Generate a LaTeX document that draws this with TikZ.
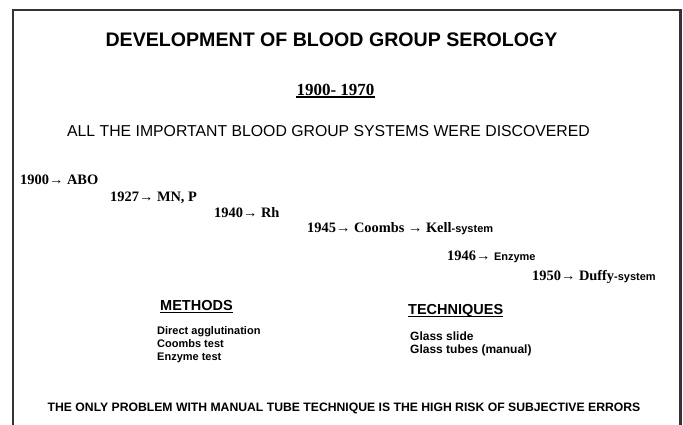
\documentclass[tikz,border=0pt]{standalone}
\usepackage{fontspec}
\setmainfont{Liberation Serif}
\setsansfont{Liberation Sans}
\usetikzlibrary{positioning}

% sans word tacked onto a serif entry
\newcommand{\sysword}[1]{{\sffamily\bfseries\fontsize{11}{12}\selectfont #1}}

\begin{document}
\begin{tikzpicture}[
    x=1pt, y=-1pt,
    frame/.style={draw=black!80, line width=2.4pt},
    banner/.style={inner sep=0pt, anchor=base, font=\sffamily\bfseries\fontsize{19.6}{22}\selectfont},
    period/.style={inner sep=0pt, anchor=base, font=\bfseries\fontsize{17}{20}\selectfont},
    claim/.style={inner sep=0pt, anchor=base, font=\sffamily\fontsize{15.8}{18}\selectfont},
    year/.style={inner sep=0pt, anchor=base west, font=\bfseries\fontsize{14.4}{16}\selectfont},
    head/.style={inner sep=0pt, anchor=base west, font=\sffamily\bfseries\fontsize{14.5}{17}\selectfont},
    entry/.style={inner sep=0pt, anchor=base west, font=\sffamily\bfseries\fontsize{11}{13}\selectfont},
    uline/.style={line width=1.3pt}
]
    \useasboundingbox (0,0) rectangle (683,424);
    \draw[frame] (12.8,440) -- (12.8,10) -- (680.3,10) -- (680.3,440);

    \node[banner] (title) at (331.5,46) {DEVELOPMENT OF BLOOD GROUP SEROLOGY};
    \node[period] (span) at (335.5,95) {1900- 1970};
    \draw[uline] ([yshift=-2pt]span.base west) -- ([yshift=-2pt]span.base east);
    \node[claim] (claim) at (328.5,136) {ALL THE IMPORTANT BLOOD GROUP SYSTEMS WERE DISCOVERED};

    % timeline
    \node[year] (abo)   at (20,184)  {1900→ ABO};
    \node[year] (mnp)   at (110,201) {1927→ MN, P};
    \node[year] (rh)    at (214,217.5) {1940→ Rh};
    \node[year] (kell)  at (307,232) {1945→ Coombs → Kell\sysword{-system}};
    \node[year] (enz)   at (447,260) {1946→ \sysword{Enzyme}};
    \node[year] (duffy) at (532,280.5) {1950→ Duffy\sysword{-system}};

    % methods and techniques
    \node[head] (methods) at (160,310) {METHODS};
    \draw[uline] ([yshift=-2.5pt]methods.base west) -- ([yshift=-2.5pt]methods.base east);
    \node[entry] (direct) at (157,334) {Direct agglutination};
    \node[entry] (coombs) at (157,347) {Coombs test};
    \node[entry] (enzyme) at (157,360) {Enzyme test};

    \node[head] (techniques) at (408,314) {TECHNIQUES};
    \draw[uline] ([yshift=-2.5pt]techniques.base west) -- ([yshift=-2.5pt]techniques.base east);
    \node[entry, font=\sffamily\bfseries\fontsize{12}{14}\selectfont] (slide) at (410,340) {Glass slide};
    \node[entry, font=\sffamily\bfseries\fontsize{12}{14}\selectfont] (tubes) at (410,353) {Glass tubes (manual)};

    \node[claim, font=\sffamily\bfseries\fontsize{12.2}{14}\selectfont] (risk) at (344,411)
        {THE ONLY PROBLEM WITH MANUAL TUBE TECHNIQUE IS THE HIGH RISK OF SUBJECTIVE ERRORS};
\end{tikzpicture}
\end{document}
